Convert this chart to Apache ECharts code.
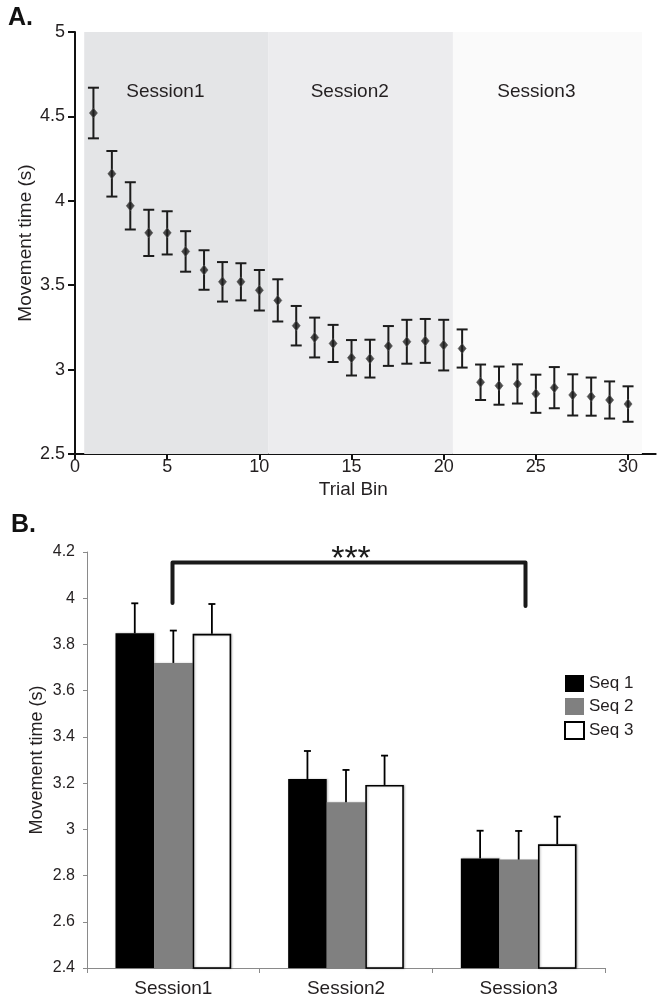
<!DOCTYPE html>
<html>
<head>
<meta charset="utf-8">
<script src="https://cdn.jsdelivr.net/npm/echarts@6/dist/echarts.min.js"></script>
<style>
  html, body { margin: 0; padding: 0; background: #fff; }
  #chart { width: 664px; height: 1005px; }
</style>
</head>
<body>
<div id="chart"></div>
<script>
// ---------- Panel A data ----------
const trialBins = [1,2,3,4,5,6,7,8,9,10,11,12,13,14,15,16,17,18,19,20,21,22,23,24,25,26,27,28,29,30];
const meanTime = [4.52,4.16,3.97,3.81,3.81,3.70,3.59,3.52,3.52,3.47,3.41,3.26,3.19,3.155,3.07,3.065,3.14,3.165,3.17,3.145,3.125,2.925,2.905,2.915,2.857,2.893,2.85,2.84,2.82,2.796];
const semTime = [0.15,0.135,0.14,0.137,0.128,0.12,0.117,0.117,0.11,0.12,0.125,0.117,0.118,0.11,0.105,0.112,0.118,0.13,0.13,0.15,0.113,0.105,0.113,0.116,0.113,0.122,0.122,0.113,0.11,0.105];
const sessionNames = ['Session1', 'Session2', 'Session3'];
const sessionSpans = [[0.5, 10.5], [10.5, 20.5], [20.5, 30.75]];
const xTicksA = [0, 5, 10, 15, 20, 25, 30];

// ---------- Panel B data ----------
const sessions = ['Session1', 'Session2', 'Session3'];
const seqNames = ['Seq 1', 'Seq 2', 'Seq 3'];
const seq1 = [3.848, 3.218, 2.874];
const seq2 = [3.720, 3.117, 2.869];
const seq3 = [3.846, 3.192, 2.935];
const seq1Err = [0.130, 0.121, 0.120];
const seq2Err = [0.140, 0.140, 0.124];
const seq3Err = [0.129, 0.127, 0.120];
const sigLabel = '***';

const FONT = "'Liberation Sans', Arial, Helvetica, sans-serif";
const INK = '#231f20';
const shadeColors = ['#e4e5e7', '#ececee', '#fafafa'];

const chart = echarts.init(document.getElementById('chart'), null, { renderer: 'canvas' });

const errA = trialBins.map((b, i) => [b, meanTime[i], semTime[i]]);
const ptsA = trialBins.map((b, i) => [b, meanTime[i]]);

const seqVals = [seq1, seq2, seq3];
const seqErrs = [seq1Err, seq2Err, seq3Err];
const errB = [];
sessions.forEach((s, ci) => {
  seqVals.forEach((arr, si) => { errB.push([ci, si, arr[ci], seqErrs[si][ci]]); });
});
const CAT_GAP = 0.33;

const option = {
  backgroundColor: '#ffffff',
  animation: false,
  textStyle: { fontFamily: FONT, color: INK },
  grid: [
    { left: 75, top: 32, width: 580.7, height: 422, containLabel: false },
    { left: 87, top: 552, width: 518, height: 416, containLabel: false }
  ],
  legend: {
    data: seqNames,
    orient: 'vertical',
    left: 559, top: 670,
    itemWidth: 19, itemHeight: 17, itemGap: 6,
    icon: 'rect',
    textStyle: { fontSize: 17, color: INK, fontFamily: FONT },
    selectedMode: false
  },
  xAxis: [
    {
      gridIndex: 0, type: 'value', min: 0, max: 31.5,
      name: 'Trial Bin', nameLocation: 'middle', nameGap: 26, nameMoveOverlap: false,
      nameTextStyle: { fontSize: 19, color: INK, padding: [0, 24, 0, 0] },
      axisLine: { show: true, lineStyle: { color: '#111', width: 2 } },
      axisTick: { show: true, length: 6, customValues: xTicksA, lineStyle: { color: '#111', width: 2 } },
      axisLabel: { fontSize: 18, color: INK, margin: 4, customValues: xTicksA },
      splitLine: { show: false }
    },
    {
      gridIndex: 1, type: 'category', data: sessions,
      axisLine: { show: true, lineStyle: { color: '#8a8a8a', width: 1 } },
      axisTick: { show: true, length: 5, alignWithLabel: false, lineStyle: { color: '#8a8a8a' } },
      axisLabel: { fontSize: 19, color: INK, margin: 11 },
      splitLine: { show: false }
    }
  ],
  yAxis: [
    {
      gridIndex: 0, type: 'value', min: 2.5, max: 5, interval: 0.5,
      name: 'Movement time (s)', nameLocation: 'middle', nameGap: 40, nameMoveOverlap: false,
      nameTextStyle: { fontSize: 19, color: INK },
      axisLine: { show: true, lineStyle: { color: '#111', width: 2 } },
      axisTick: { show: true, length: 7, lineStyle: { color: '#111', width: 2 } },
      axisLabel: { fontSize: 18, color: INK, margin: 10 },
      splitLine: { show: false }
    },
    {
      gridIndex: 1, type: 'value', min: 2.4, max: 4.2, interval: 0.2,
      name: 'Movement time (s)', nameLocation: 'middle', nameGap: 41, nameMoveOverlap: false,
      nameTextStyle: { fontSize: 18, color: INK },
      axisLine: { show: true, lineStyle: { color: '#8a8a8a', width: 1 } },
      axisTick: { show: true, length: 4, lineStyle: { color: '#8a8a8a' } },
      axisLabel: { fontSize: 16, color: INK, margin: 12 },
      splitLine: { show: false }
    }
  ],
  series: [
    {
      type: 'line', xAxisIndex: 0, yAxisIndex: 0, data: [], z: 0, silent: true,
      markArea: {
        silent: true,
        label: { show: true, position: 'insideTop', distance: 50, offset: [-11, 0], fontSize: 19, color: INK, fontFamily: FONT },
        data: sessionSpans.map((sp, i) => [
          { name: sessionNames[i], xAxis: sp[0], itemStyle: { color: shadeColors[i] } },
          { xAxis: sp[1] }
        ])
      }
    },
    {
      type: 'custom', xAxisIndex: 0, yAxisIndex: 0, z: 3, silent: true,
      data: errA,
      encode: { x: 0, y: 1 },
      renderItem: function (params, api) {
        const x = api.value(0), m = api.value(1), e = api.value(2);
        const hi = api.coord([x, m + e]);
        const lo = api.coord([x, m - e]);
        const hw = 5.5;
        const st = { stroke: '#1c1c1c', lineWidth: 2 };
        return {
          type: 'group',
          children: [
            { type: 'line', shape: { x1: hi[0], y1: hi[1], x2: lo[0], y2: lo[1] }, style: st },
            { type: 'line', shape: { x1: hi[0] - hw, y1: hi[1], x2: hi[0] + hw, y2: hi[1] }, style: st },
            { type: 'line', shape: { x1: lo[0] - hw, y1: lo[1], x2: lo[0] + hw, y2: lo[1] }, style: st }
          ]
        };
      }
    },
    {
      type: 'scatter', xAxisIndex: 0, yAxisIndex: 0, z: 4, silent: true,
      data: ptsA, symbol: 'diamond', symbolSize: [8, 10],
      itemStyle: { color: '#1e1e1e', borderColor: '#555', borderWidth: 0.8 }
    },
    {
      name: 'Seq 1', type: 'bar', xAxisIndex: 1, yAxisIndex: 1, data: seq1,
      barGap: '0%', barCategoryGap: (CAT_GAP * 100) + '%',
      itemStyle: { color: '#000000', shadowBlur: 2, shadowColor: 'rgba(0,0,0,0.25)', shadowOffsetX: 1 }
    },
    {
      name: 'Seq 2', type: 'bar', xAxisIndex: 1, yAxisIndex: 1, data: seq2,
      barGap: '0%', barCategoryGap: (CAT_GAP * 100) + '%',
      itemStyle: { color: '#808080', shadowBlur: 2, shadowColor: 'rgba(0,0,0,0.2)', shadowOffsetX: 1 }
    },
    {
      name: 'Seq 3', type: 'bar', xAxisIndex: 1, yAxisIndex: 1, data: seq3,
      barGap: '0%', barCategoryGap: (CAT_GAP * 100) + '%',
      itemStyle: { color: '#ffffff', borderColor: '#000000', borderWidth: 1.6, shadowBlur: 2, shadowColor: 'rgba(0,0,0,0.25)', shadowOffsetX: 1 }
    },
    {
      type: 'custom', xAxisIndex: 1, yAxisIndex: 1, z: 5, silent: true,
      data: errB,
      encode: { x: 0, y: 2 },
      renderItem: function (params, api) {
        const ci = api.value(0), si = api.value(1), v = api.value(2), e = api.value(3);
        const band = api.size([1, 0])[0];
        const bw = band * (1 - CAT_GAP) / 3;
        const base = api.coord([ci, v]);
        const top = api.coord([ci, v + e]);
        const x = base[0] + (si - 1) * bw;
        const hw = 3.5;
        const st = { stroke: '#000', lineWidth: 1.8 };
        return {
          type: 'group',
          children: [
            { type: 'line', shape: { x1: x, y1: base[1], x2: x, y2: top[1] }, style: st },
            { type: 'line', shape: { x1: x - hw, y1: top[1], x2: x + hw, y2: top[1] }, style: st }
          ]
        };
      }
    }
  ],
  graphic: [
    { type: 'text', left: 8, top: 6, style: { text: 'A.', font: 'bold 25px ' + FONT, fill: '#111' } },
    { type: 'text', left: 11, top: 513, style: { text: 'B.', font: 'bold 25px ' + FONT, fill: '#111' } },
    {
      type: 'polyline', z: 10,
      shape: { points: [[172.5, 603], [172.5, 562.5], [525.5, 562.5], [525.5, 606]] },
      style: { stroke: '#1a1a1a', lineWidth: 4, fill: null, lineCap: 'round', lineJoin: 'round' }
    },
    { type: 'text', z: 10, x: 351, y: 543, style: { text: sigLabel, font: '34px ' + FONT, fill: '#1a1a1a', textAlign: 'center', textVerticalAlign: 'top' } }
  ]
};

chart.setOption(option);
</script>
</body>
</html>
